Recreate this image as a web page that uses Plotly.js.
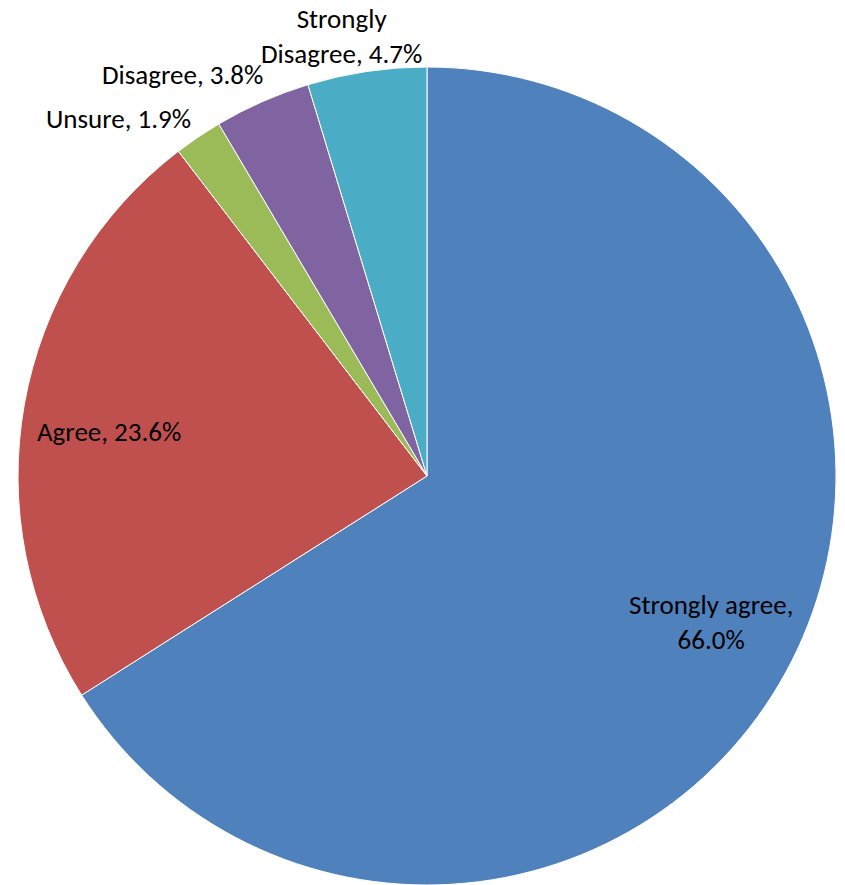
<!DOCTYPE html>
<html>
<head>
<meta charset="utf-8">
<script src="https://cdn.plot.ly/plotly-3.0.1.min.js"></script>
<style>html,body{margin:0;padding:0;background:#fff;}#chart{width:845px;height:885px;}</style>
</head>
<body>
<div id="chart"></div>
<script>
// ---- data ----
const categories = ['Strongly agree', 'Agree', 'Unsure', 'Disagree', 'Strongly Disagree'];
const values = [66.0, 23.6, 1.9, 3.8, 4.7];
const labelBreaks = ['Strongly agree,<br>', 'Agree, ', 'Unsure, ', 'Disagree, ', 'Strongly<br>Disagree, '];

// ---- style ----
const colors = ['#4F81BD', '#C0504D', '#9BBB59', '#8064A2', '#4BACC6'];
const labelRadius = [0.78, 0.79, 1.03, 1.03, 1.03];
const labelXAnchor = ['center', 'center', 'right', 'right', 'center'];
const labelYAnchor = ['middle', 'middle', 'bottom', 'bottom', 'bottom'];
const labelXShift = [4, 0, 2, 8, -24];
const labelYShift = [8, -12, -10, -3, -13];
const W = 845, H = 885;
const domX = [18 / W, 836 / W];
const domY = [0, 818 / H];
const fontFamily = 'Carlito, Calibri, Lato, "Liberation Sans", sans-serif';
const fontSize = 27;

const texts = categories.map((c, i) => labelBreaks[i] + values[i].toFixed(1) + '%');

const trace = {
  type: 'pie',
  labels: categories,
  values: values,
  textinfo: 'none',
  hoverinfo: 'label+percent',
  sort: false,
  direction: 'clockwise',
  rotation: 0,
  marker: {colors: colors, line: {color: '#ffffff', width: 1}},
  domain: {x: domX, y: domY},
  automargin: false
};

// label placement from slice geometry
const total = values.reduce((a, b) => a + b, 0);
const cxPx = (domX[0] + domX[1]) / 2 * W;
const cyPx = H - (domY[0] + domY[1]) / 2 * H;
const rPx = Math.min((domX[1] - domX[0]) * W, (domY[1] - domY[0]) * H) / 2;
let cum = 0;
const annotations = values.map((v, i) => {
  const mid = (cum + v / 2) / total * 2 * Math.PI;
  cum += v;
  const px = cxPx + Math.sin(mid) * rPx * labelRadius[i];
  const py = cyPx - Math.cos(mid) * rPx * labelRadius[i];
  return {
    xref: 'paper', yref: 'paper',
    x: px / W, y: 1 - py / H,
    xanchor: labelXAnchor[i], yanchor: labelYAnchor[i],
    xshift: labelXShift[i], yshift: labelYShift[i],
    text: texts[i], showarrow: false, align: 'center',
    font: {family: fontFamily, size: fontSize, color: '#000000'}
  };
});

const layout = {
  width: W,
  height: H,
  margin: {l: 0, r: 0, t: 0, b: 0},
  showlegend: false,
  paper_bgcolor: '#ffffff',
  plot_bgcolor: '#ffffff',
  annotations: annotations
};

Plotly.newPlot('chart', [trace], layout, {displayModeBar: false, staticPlot: true});
</script>
</body>
</html>
